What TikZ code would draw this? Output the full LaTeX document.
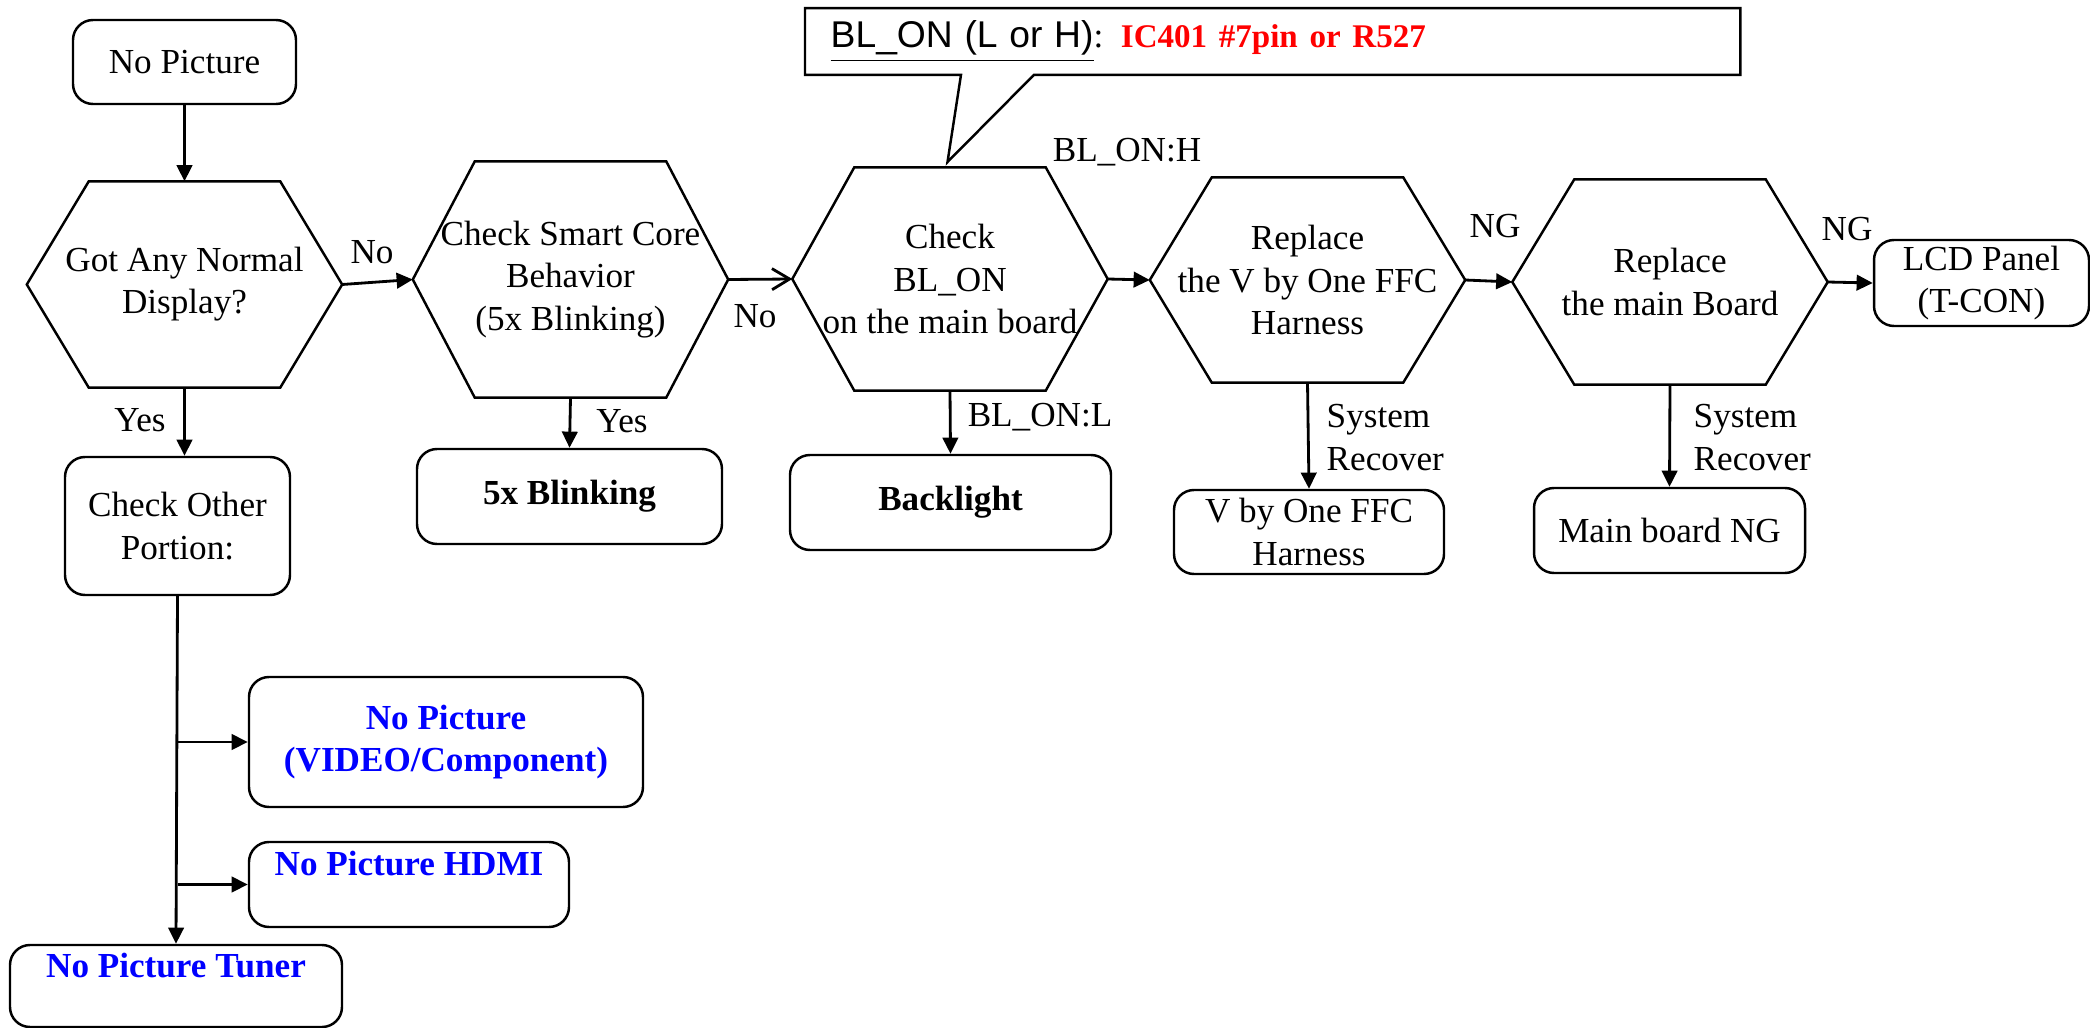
\documentclass[tikz,border=0pt]{standalone}
\usepackage{fontspec}
\setmainfont{Liberation Serif}
\newfontfamily\notefont[Scale=1.06]{Liberation Sans}
\usetikzlibrary{arrows.meta,positioning,calc}

\begin{document}
\begin{tikzpicture}[
    box/.style={rectangle, rounded corners=2mm, draw, line width=0.7pt,
                align=center, inner sep=1pt},
    hexa/.style={rectangle, minimum width=3.14cm, align=center, inner sep=0pt},
    hexline/.style={line width=0.7pt, line join=miter},
    lbl/.style={inner sep=0pt, align=left},
    alert/.style={text=blue, font=\bfseries},
    conn/.style={-{Triangle[length=4.6pt,width=4.4pt]}, line width=0.8pt}
  ]
  \useasboundingbox (0,0) rectangle (20.9,-10.28);

  % main row
  \node[box, minimum width=2.23cm, minimum height=0.84cm] (start) at (1.845,-0.62) {No Picture};
  \node[hexa, minimum height=2.05cm] (h1) at (1.845,-2.845) {Got Any Normal\\Display?};
  \node[hexa, minimum height=2.35cm] (h2) at (5.705,-2.795) {Check Smart Core\\Behavior\\(5x Blinking)};
  \node[hexa, minimum height=2.22cm] (h3) at (9.50,-2.79) {Check\\BL\_ON\\on the main board};
  \node[hexa, minimum height=2.04cm] (h4) at (13.075,-2.80) {Replace\\the V by One FFC\\Harness};
  \node[hexa, minimum height=2.04cm] (h5) at (16.70,-2.82) {Replace\\the main Board};
  \node[box, minimum width=2.15cm, minimum height=0.86cm] (lcd) at (19.815,-2.83) {LCD Panel\\(T-CON)};

  \foreach \n in {h1,h2,h3,h4,h5}
    \draw[hexline] (\n.west) -- ([xshift=6.2mm]\n.north west) -- ([xshift=-6.2mm]\n.north east)
      -- (\n.east) -- ([xshift=-6.2mm]\n.south east) -- ([xshift=6.2mm]\n.south west) -- cycle;

  % callout
  \node[anchor=west, text width=8.84cm, inner xsep=2.5mm, minimum height=6.3mm, align=left] (note)
    at (8.05,-0.415) {\underline{\notefont BL\_ON (L or H)}: \textcolor{red}{\fontsize{9.4}{11}\selectfont\bfseries IC401 \#7pin or R527}};
  \coordinate (tip) at (9.475,-1.62);
  \draw[hexline] (note.south west) |- (note.north east) |- ([xshift=2.29cm]note.south west)
    -- (tip) -- ([xshift=1.56cm]note.south west) -- cycle;

  % results
  \node[box, minimum width=2.25cm, minimum height=1.38cm] (other) at (1.775,-5.26) {Check Other\\Portion:};
  \node[box, font=\bfseries, minimum width=3.05cm, minimum height=0.95cm] (blink5) at (5.695,-4.965) {5x Blinking};
  \node[box, font=\bfseries, minimum width=3.21cm, minimum height=0.95cm] (backlt) at (9.505,-5.025) {Backlight};
  \node[box, minimum width=2.70cm, minimum height=0.84cm] (vbyone) at (13.09,-5.32) {V by One FFC\\Harness};
  \node[box, minimum width=2.71cm, minimum height=0.85cm] (mainng) at (16.695,-5.305) {Main board NG};

  \node[box, alert, minimum width=3.94cm, minimum height=1.30cm] (video) at (4.46,-7.42) {No Picture\\(VIDEO/Component)};
  \node[box, alert, minimum width=3.20cm, minimum height=0.85cm] (hdmi) at (4.09,-8.845) {No Picture HDMI\\\mbox{}};
  \node[box, alert, minimum width=3.32cm, minimum height=0.82cm] (tuner) at (1.76,-9.86) {No Picture Tuner\\\mbox{}};

  % labels
  \node[lbl] (lno1) at (3.72,-2.52) {No};
  \node[lbl] (lno2) at (7.55,-3.16) {No};
  \node[lbl] (lblh) at (11.27,-1.52) {BL\_ON:H};
  \node[lbl] (lng1) at (14.95,-2.26) {NG};
  \node[lbl] (lng2) at (18.47,-2.29) {NG};
  \node[lbl] (lyes1) at (1.40,-4.20) {Yes};
  \node[lbl] (lyes2) at (6.22,-4.21) {Yes};
  \node[lbl] (lbll) at (10.40,-4.17) {BL\_ON:L};
  \node[lbl, anchor=west] (lsys1) at (13.26,-4.375) {System\\Recover};
  \node[lbl, anchor=west] (lsys2) at (16.93,-4.375) {System\\Recover};

  \draw[conn] (start.south) -- (h1.north);
  \draw[conn] (h1.east) -- (h2.west);
  \draw[conn, -{Straight Barb[length=5pt,width=6pt]}] (h2.east) -- (h3.west);
  \draw[conn] (h3.east) -- (h4.west);
  \draw[conn] (h4.east) -- (h5.west);
  \draw[conn] (h5.east) -- (lcd.west);
  \draw[conn] (h1.south) -- (h1.south |- other.north);
  \draw[conn] (h2.south) -- (blink5.north);
  \draw[conn] (h3.south) -- (backlt.north);
  \draw[conn] (h4.south) -- (vbyone.north);
  \draw[conn] (h5.south) -- (mainng.north);
  \draw[conn] (other.south) -- (tuner.north);
  \draw[conn] (other.south |- video.west) -- (video.west);
  \draw[conn] (other.south |- hdmi.west) -- (hdmi.west);
\end{tikzpicture}
\end{document}
